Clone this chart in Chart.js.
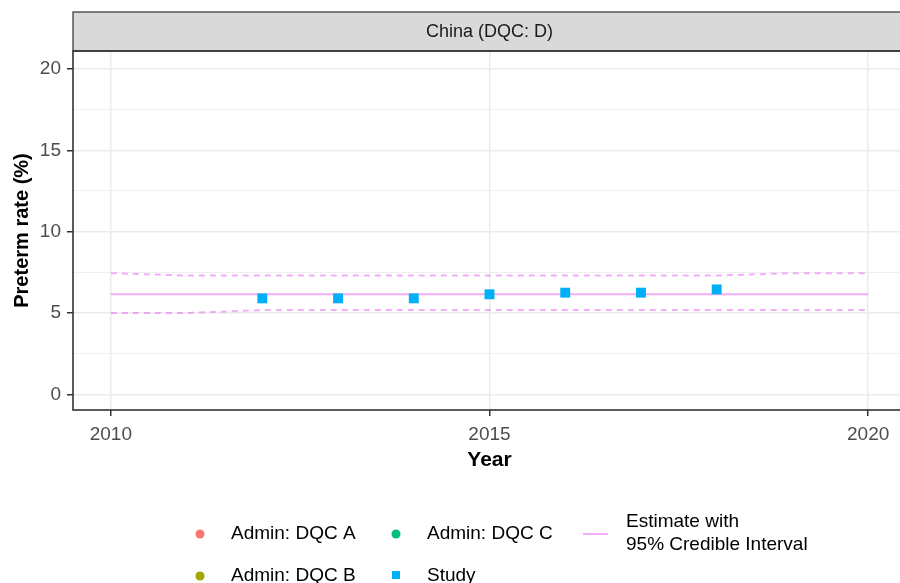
<!DOCTYPE html>
<html>
<head>
<meta charset="utf-8">
<script src="https://cdn.jsdelivr.net/npm/chart.js@4/dist/chart.umd.min.js"></script>
<style>
  html, body { margin: 0; padding: 0; background: #ffffff; overflow: hidden; }
  #wrap { width: 900px; height: 583px; overflow: hidden; position: relative; }
  canvas { display: block; }
</style>
</head>
<body>
<div id="wrap"><canvas id="c" width="913" height="583"></canvas></div>
<script>
// Facet label
const panelTitle = 'China (DQC: D)';

// Modelled preterm rate with 95% credible interval, by year
const estYears = [2010, 2011, 2012, 2013, 2014, 2015, 2016, 2017, 2018, 2019, 2020];
const estimate = [6.15, 6.15, 6.15, 6.15, 6.15, 6.15, 6.15, 6.15, 6.15, 6.15, 6.15];
const upperCI  = [7.45, 7.30, 7.30, 7.30, 7.30, 7.30, 7.30, 7.30, 7.30, 7.45, 7.45];
const lowerCI  = [5.00, 5.00, 5.18, 5.18, 5.18, 5.18, 5.18, 5.18, 5.18, 5.18, 5.18];

// Observed data points
const studyYears = [2012, 2013, 2014, 2015, 2016, 2017, 2018];
const studyRates = [5.90, 5.90, 5.90, 6.15, 6.25, 6.25, 6.45];
const adminA = [];
const adminB = [];
const adminC = [];

// Axis ticks
const xTicks = [2010, 2015, 2020];
const yTicks = [0, 5, 10, 15, 20];
const yMinorTicks = [2.5, 7.5, 12.5, 17.5];

const COL_A = '#F8766D', COL_B = '#A3A500', COL_C = '#00BF7D';
const COL_STUDY = '#00B0F6', COL_EST = 'rgba(231,107,243,0.55)';
const FONT = '"Liberation Sans", Arial, sans-serif';

const pts = (xs, ys) => xs.map((x, i) => ({ x: x, y: ys[i] }));

// Strip, panel frame, axis titles and legend
const framePlugin = {
  id: 'frame',
  afterDraw(chart) {
    const { ctx, chartArea: a } = chart;
    const xs = chart.scales.x;
    const cx = xs.getPixelForValue(2015);
    ctx.save();
    // facet strip
    ctx.fillStyle = '#D9D9D9';
    ctx.fillRect(a.left, 12, a.right - a.left, a.top - 12);
    ctx.strokeStyle = '#333333';
    ctx.lineWidth = 1.2;
    ctx.strokeRect(a.left, 12, a.right - a.left, a.top - 12);
    ctx.fillStyle = '#1A1A1A';
    ctx.font = '18px ' + FONT;
    ctx.textAlign = 'center';
    ctx.textBaseline = 'middle';
    ctx.fillText(panelTitle, cx, 32);
    // panel border
    ctx.lineWidth = 1.6;
    ctx.strokeRect(a.left, a.top, a.right - a.left, a.bottom - a.top);

    // axis titles
    ctx.fillStyle = '#000000';
    ctx.font = 'bold 21px ' + FONT;
    ctx.fillText('Year', cx, 460);
    ctx.save();
    ctx.translate(22, (a.top + a.bottom) / 2);
    ctx.rotate(-Math.PI / 2);
    ctx.font = 'bold 20px ' + FONT;
    ctx.fillText('Preterm rate (%)', 0, 0);
    ctx.restore();

    // legend
    ctx.font = '19px ' + FONT;
    ctx.textAlign = 'left';
    ctx.fillStyle = '#000000';
    const dot = (x, y, c) => {
      ctx.beginPath();
      ctx.arc(x, y, 4.5, 0, Math.PI * 2);
      ctx.fillStyle = c;
      ctx.fill();
    };
    dot(200, 534, COL_A);
    dot(200, 576, COL_B);
    dot(396, 534, COL_C);
    ctx.fillStyle = COL_STUDY;
    ctx.fillRect(392, 571, 8, 8);
    ctx.strokeStyle = COL_EST;
    ctx.lineWidth = 2;
    ctx.beginPath();
    ctx.moveTo(583, 534);
    ctx.lineTo(608, 534);
    ctx.stroke();
    ctx.fillStyle = '#000000';
    ctx.fillText('Admin: DQC A', 231, 534);
    ctx.fillText('Admin: DQC B', 231, 576);
    ctx.fillText('Admin: DQC C', 427, 534);
    ctx.fillText('Study', 427, 576);
    ctx.fillText('Estimate with', 626, 522);
    ctx.fillText('95% Credible Interval', 626, 545);
    ctx.restore();
  }
};

new Chart(document.getElementById('c'), {
  type: 'scatter',
  data: {
    datasets: [
      { label: 'Study', data: pts(studyYears, studyRates), order: 0,
        pointStyle: 'rect', pointRadius: 7, pointHoverRadius: 7,
        backgroundColor: COL_STUDY, borderColor: COL_STUDY, borderWidth: 0 },
      { label: 'Admin: DQC A', data: adminA, order: 0, backgroundColor: COL_A, pointRadius: 4.5 },
      { label: 'Admin: DQC B', data: adminB, order: 0, backgroundColor: COL_B, pointRadius: 4.5 },
      { label: 'Admin: DQC C', data: adminC, order: 0, backgroundColor: COL_C, pointRadius: 4.5 },
      { label: 'Estimate', data: pts(estYears, estimate), order: 1, showLine: true,
        borderColor: COL_EST, borderWidth: 2, pointRadius: 0, tension: 0 },
      { label: 'Upper 95%', data: pts(estYears, upperCI), order: 1, showLine: true,
        borderColor: COL_EST, borderWidth: 2, borderDash: [6, 5], pointRadius: 0, tension: 0 },
      { label: 'Lower 95%', data: pts(estYears, lowerCI), order: 1, showLine: true,
        borderColor: COL_EST, borderWidth: 2, borderDash: [6, 5], pointRadius: 0, tension: 0 }
    ]
  },
  options: {
    responsive: false,
    animation: false,
    devicePixelRatio: 1,
    layout: { padding: { top: 51, right: 0, bottom: 0, left: 0 } },
    plugins: { legend: { display: false }, tooltip: { enabled: false } },
    scales: {
      x: {
        type: 'linear',
        min: 2009.5,
        max: 2020.5,
        afterBuildTicks: s => { s.ticks = xTicks.map(v => ({ value: v })); },
        afterFit: s => { s.height = 173; },
        ticks: { color: '#4D4D4D', font: { family: FONT, size: 19 }, padding: 7,
                 maxRotation: 0, autoSkip: false, callback: v => String(v) },
        grid: { color: '#EBEBEB', lineWidth: 1.5, tickLength: 6, tickColor: '#333333', tickWidth: 1.5 },
        border: { display: false }
      },
      y: {
        type: 'linear',
        min: -0.96,
        max: 21.1,
        afterBuildTicks: s => {
          s.ticks = yTicks.concat(yMinorTicks).sort((p, q) => p - q).map(v => ({ value: v }));
        },
        afterFit: s => { s.width = 73; },
        ticks: { color: '#4D4D4D', font: { family: FONT, size: 19 }, padding: 6, autoSkip: false,
                 callback: v => (yTicks.includes(v) ? String(v) : '') },
        grid: {
          color: '#EBEBEB',
          lineWidth: c => (c.tick && yTicks.includes(c.tick.value) ? 1.5 : 0.8),
          tickLength: 6,
          tickColor: c => (c.tick && yTicks.includes(c.tick.value) ? '#333333' : 'rgba(0,0,0,0)'),
          tickWidth: 1.5
        },
        border: { display: false }
      }
    }
  },
  plugins: [framePlugin]
});
</script>
</body>
</html>
